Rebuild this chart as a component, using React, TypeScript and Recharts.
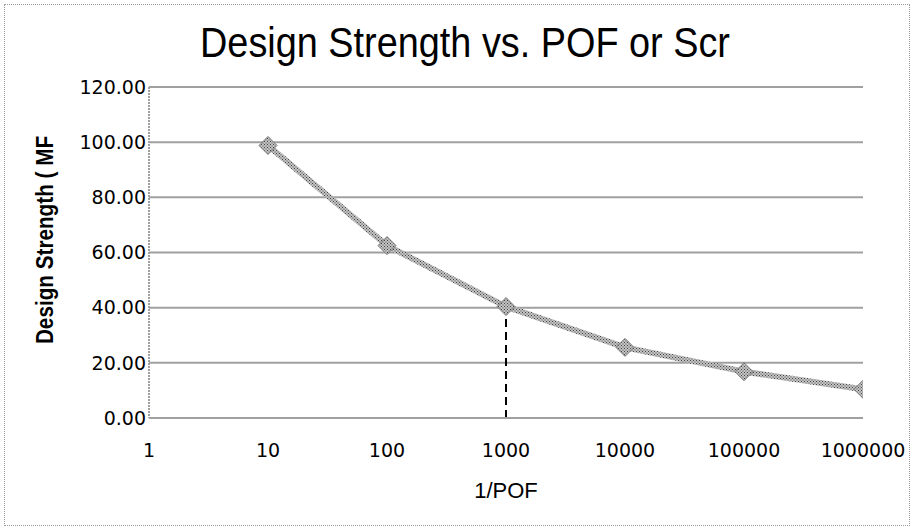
import React from 'react';
import { LineChart, Line, XAxis, YAxis, CartesianGrid, ReferenceLine } from 'recharts';

const xTicks = [1, 10, 100, 1000, 10000, 100000, 1000000];
const yTicks = [0, 20, 40, 60, 80, 100, 120];
const pofValues = [10, 100, 1000, 10000, 100000, 1000000];
const strengthValues = [98.8, 62.5, 40.4, 25.6, 16.8, 10.4];
const markerPof = 1000;
const markerStrength = 40.4;

const data = pofValues.map((x, i) => ({ x, y: strengthValues[i] }));

const Diamond = (props: any) => {
  const { cx, cy } = props;
  if (cx == null || cy == null) return null;
  const r = 9;
  return (
    <polygon
      points={`${cx},${cy - r} ${cx + r},${cy} ${cx},${cy + r} ${cx - r},${cy}`}
      fill="url(#hatch)"
      stroke="#777"
      strokeWidth={1}
    />
  );
};

export default function App() {
  return (
    <div style={{ position: 'absolute', left: 0, top: 0, width: 915, height: 529, background: '#fff' }}>
      <div
        style={{
          position: 'absolute', left: 4, top: 4, width: 906, height: 522,
          border: '1px dotted #9a9a9a', boxSizing: 'border-box',
        }}
      />
      <div
        style={{
          position: 'absolute', left: 0, top: 18, width: 930, textAlign: 'center',
          fontFamily: '"Liberation Sans", sans-serif',
          fontSize: 43, color: '#000', transform: 'scaleX(0.88)',
        }}
      >
        Design Strength vs. POF or Scr
      </div>
      <div style={{ position: 'absolute', left: 45, top: 240, width: 0, height: 0 }}>
        <div
          style={{
            position: 'absolute', transform: 'translate(-50%, -50%) rotate(-90deg) scaleX(0.9)',
            whiteSpace: 'nowrap', fontFamily: '"Liberation Sans", sans-serif',
            fontWeight: 'bold', fontSize: 23, color: '#000',
          }}
        >
          Design Strength ( MF
        </div>
      </div>
      <div style={{ position: 'absolute', left: 0, top: 0 }}>
        <LineChart width={915} height={529} data={data} margin={{ top: 87, right: 52, bottom: 0, left: 49 }}>
          <defs>
            <pattern id="hatch" width="3" height="3" patternUnits="userSpaceOnUse">
              <rect width="3" height="3" fill="#c4c4c4" />
              <rect x="0" y="0" width="1" height="1" fill="#444" />
              <rect x="1.5" y="1.5" width="1" height="1" fill="#444" />
            </pattern>
          </defs>
          <CartesianGrid vertical={false} stroke="#a0a0a0" strokeWidth={2} />
          <XAxis
            dataKey="x"
            type="number"
            scale="log"
            domain={[1, 1000000]}
            ticks={xTicks}
            allowDataOverflow
            axisLine={{ stroke: '#a0a0a0', strokeWidth: 2 }}
            tickLine={false}
            tickMargin={20}
            height={111}
            tick={{ fill: '#000', fontSize: 19, fontFamily: '"DejaVu Sans", sans-serif' }}
            label={{
              value: '1/POF', position: 'insideTop', offset: 64, fill: '#000', fontSize: 22,
              fontFamily: '"Liberation Sans", sans-serif',
            }}
          />
          <YAxis
            type="number"
            domain={[0, 120]}
            ticks={yTicks}
            width={100}
            axisLine={{ stroke: '#a0a0a0', strokeWidth: 2, strokeDasharray: '2 1' }}
            tickLine={false}
            tickSize={3}
            tickMargin={0}
            tickFormatter={(v: number) => v.toFixed(2)}
            tick={{ fill: '#000', fontSize: 19, fontFamily: '"DejaVu Sans", sans-serif' }}
          />
          <ReferenceLine
            segment={[{ x: markerPof, y: 0 }, { x: markerPof, y: markerStrength }]}
            stroke="#000"
            strokeWidth={2}
            strokeDasharray="8 5"
          />
          <Line
            dataKey="y"
            stroke="url(#hatch)"
            strokeWidth={6}
            dot={<Diamond />}
            activeDot={false}
            isAnimationActive={false}
          />
        </LineChart>
      </div>
    </div>
  );
}
